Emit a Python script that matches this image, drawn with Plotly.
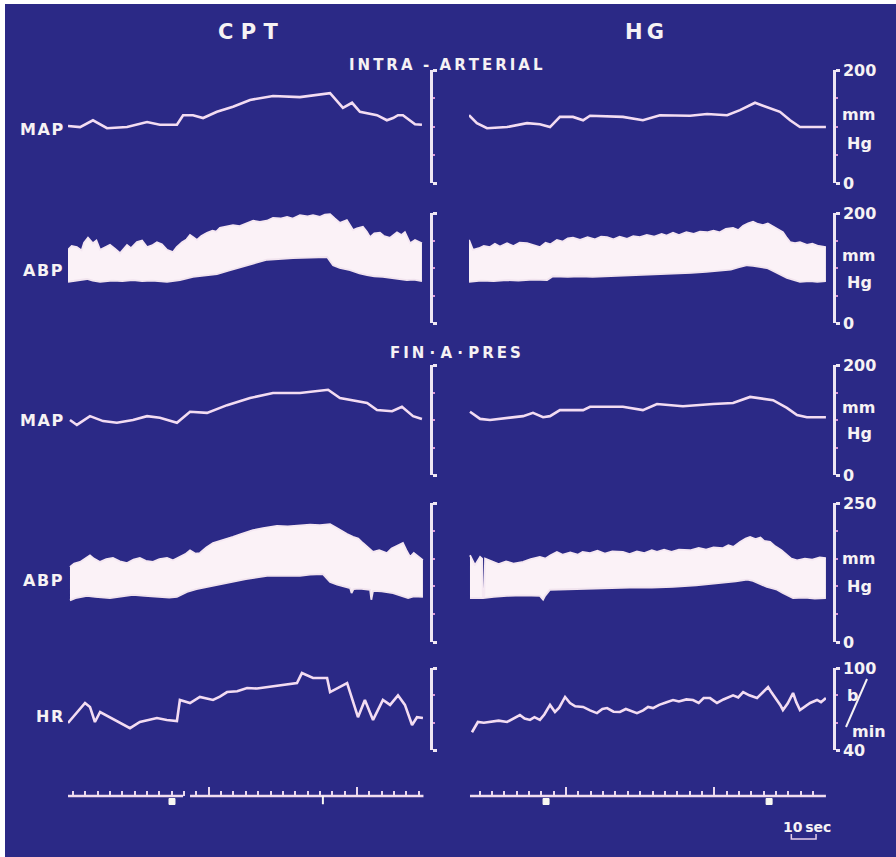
import plotly.graph_objects as go

W, H = 896, 857

# ---------------- DATA (time in s, values in mmHg or beats/min) ----------------
# Row 1: intra-arterial MAP
map_ia_cpt_t = [0, 4.9, 10.1, 15.8, 23.9, 32.0, 37.2, 44.1, 46.6, 50.6, 54.7, 60.3, 66.8, 73.7, 83.0, 93.9,
                106.1, 111.3, 115.0, 118.2, 125.1, 129.1, 131.6, 133.6, 135.6, 140.5, 143.3]
map_ia_cpt = [101, 99, 111, 97, 99, 108, 103, 103, 120, 120, 115, 126, 135, 147, 154, 152,
              159, 133, 142, 126, 120, 111, 115, 120, 120, 104, 103]
map_ia_hg_t = [0, 3.2, 7.3, 15.4, 23.5, 28.7, 32.8, 36.8, 42.1, 46.2, 49.0, 62.3, 70.4, 77.3, 89.5, 96.4,
               104.5, 109.7, 115.8, 121.9, 125.9, 130.0, 134.0, 144.5]
map_ia_hg = [120, 106, 97, 99, 106, 104, 99, 117, 117, 111, 119, 117, 111, 120, 119, 122,
             120, 129, 142, 133, 126, 111, 99, 99]

# Row 2: intra-arterial ABP (systolic / diastolic envelopes)
abp_ia_cpt_sys_t = [0, 1.5, 3.6, 5.5, 6.5, 8.1, 10.1, 11.5, 13.0, 15.0, 17.0, 19.0, 21.1, 23.9, 25.5, 27.9,
                    30.0, 32.0, 34.0, 36.0, 38.0, 40.1, 42.5, 44.0, 46.2, 48.0, 49.4, 51.0, 52.2, 54.0, 56.3,
                    58.5, 60.0, 61.5, 64.0, 66.8, 69.5, 72.5, 75.0, 77.7, 80.5, 83.0, 86.0, 88.7, 91.0, 93.9,
                    97.0, 99.2, 102.0, 104.0, 106.1, 108.0, 110.1, 112.9, 115.4, 117.0, 119.4, 121.0, 122.3,
                    124.0, 126.3, 128.0, 130.4, 133.2, 135.0, 136.4, 138.5, 140.5, 143.3]
abp_ia_cpt_sys = [133, 140, 138, 132, 146, 155, 145, 150, 133, 138, 142, 135, 127, 142, 136, 147,
                  150, 138, 141, 147, 143, 133, 129, 138, 147, 152, 160, 155, 151, 158, 164,
                  168, 166, 173, 176, 178, 176, 182, 186, 184, 186, 191, 190, 193, 190, 196,
                  194, 196, 193, 197, 198, 190, 182, 187, 169, 172, 175, 166, 156,
                  163, 164, 158, 155, 165, 160, 165, 145, 151, 145]
abp_ia_cpt_dia_t = [0, 3, 7.7, 10, 13, 18, 22, 26.3, 30, 34, 40.1, 45.3, 50.6, 55, 60.3, 65, 70.9, 75,
                    80.6, 86, 91.1, 98, 104.9, 107.3, 110, 114.2, 118, 121.1, 124, 127.5, 131, 134, 137.2,
                    140, 143.3]
abp_ia_cpt_dia = [75, 77, 80, 77, 75, 77, 76, 78, 76, 77, 75, 78, 84, 86, 89, 95, 102, 108,
                  115, 117, 118, 119, 120, 105, 100, 96, 90, 87, 85, 84, 82, 79, 78,
                  79, 76]
abp_ia_hg_sys_t = [0, 1.6, 4, 6, 8.5, 10.5, 12.5, 15.4, 18, 20.5, 23.5, 26, 28.7, 31, 33, 35.6, 38, 40,
                   42.1, 45, 48, 51, 53.5, 55.9, 58.5, 61, 64, 66.5, 69.2, 72, 75, 78, 80, 82.6, 85, 88,
                   91, 93.5, 96.4, 99, 101.5, 104, 106.9, 109, 111, 113, 115, 117, 119, 121, 123.1, 125,
                   127.1, 128.5, 130, 132, 134, 136.8, 139, 141.5, 144.5]
abp_ia_hg_sys = [151, 133, 136, 140, 138, 144, 139, 145, 140, 146, 145, 141, 138, 146, 143, 151, 148, 154,
                 155, 151, 156, 152, 157, 156, 152, 157, 153, 158, 156, 160, 157, 162, 159, 164, 160, 165,
                 162, 166, 165, 168, 165, 171, 173, 169, 177, 181, 184, 180, 178, 181, 175, 170,
                 165, 156, 147, 145, 147, 142, 144, 140, 138]
abp_ia_hg_dia_t = [0, 5, 10, 15.4, 20, 26, 31.6, 34, 40, 45, 50, 55.9, 62, 70, 76, 82.6, 90, 96, 102.8,
                   106, 109, 112.6, 115, 118, 120.6, 122.5, 124.7, 126.5, 128.7, 131, 134, 138, 141, 144.5]
abp_ia_hg_dia = [75, 77, 76, 78, 77, 79, 78, 85, 84, 85, 84, 85, 86, 87, 88, 89, 91, 93, 95,
                 97, 101, 105, 104, 102, 100, 96, 91, 87, 82, 79, 75, 76, 75, 76]

# Row 3: Fin-A-Pres MAP
map_fin_cpt_t = [0.8, 3.6, 8.9, 14.2, 19.8, 26.3, 32.0, 37.2, 44.1, 49.4, 56.3, 64.4, 73.7, 83.0, 93.9,
                 105.3, 110.1, 115.4, 121.1, 125.1, 131.2, 135.2, 139.7, 143.3]
map_fin_cpt = [100, 91, 107, 98, 95, 100, 107, 104, 95, 115, 113, 127, 140, 149, 149,
               155, 140, 136, 131, 118, 116, 124, 107, 102]
map_fin_hg_t = [0.4, 4.5, 8.5, 21.9, 25.9, 30.0, 32.8, 36.8, 46.2, 49.0, 62.3, 70.4, 76.1, 86.6, 98.8,
                106.9, 113.8, 123.1, 128.7, 132.8, 136.8, 144.5]
map_fin_hg = [115, 102, 100, 107, 113, 105, 107, 118, 118, 124, 124, 118, 129, 125, 129,
              131, 142, 136, 122, 109, 105, 105]

# Row 4: Fin-A-Pres ABP
abp_fin_cpt_sys_t = [0.8, 2.5, 4.9, 7, 8.9, 10.5, 13.0, 15.5, 18.2, 21, 23.9, 26.5, 29.1, 31.5, 34.4, 37,
                     40.1, 42.5, 45.3, 47.5, 49.4, 51.5, 53.4, 56, 58.7, 62, 66.8, 70, 74.9, 79, 84.6, 89,
                     93.9, 98, 102, 106.1, 108.5, 111.3, 113, 115.4, 117.5, 119.4, 121.5, 123.5, 126,
                     129.1, 131, 133, 135.6, 137, 138.5, 140, 141.3, 143.7]
abp_fin_cpt_sys = [135, 141, 144, 150, 156, 150, 144, 149, 151, 145, 142, 148, 151, 146, 144, 149,
                   151, 147, 153, 158, 165, 159, 160, 170, 178, 182, 189, 194, 201, 205, 209, 208,
                   210, 211, 210, 212, 206, 198, 194, 189, 186, 178, 170, 162, 165,
                   160, 168, 172, 178, 165, 153, 160, 156, 147]
abp_fin_cpt_dia_t = [0.8, 3, 7.7, 11, 17.0, 21, 26.3, 31, 37.2, 41, 44.1, 48.2, 52, 56.3, 61, 66.8, 72,
                     80.6, 87, 93.9, 98, 103.2, 106.1, 109, 114.2, 114.8, 115.6, 118, 122.3, 122.8, 123.5,
                     127, 131.6, 134, 137.7, 140, 143.7]
abp_fin_cpt_dia = [75, 79, 83, 81, 79, 82, 85, 83, 81, 80, 81, 90, 95, 99, 103, 108, 113,
                   119, 119, 119, 121, 122, 108, 103, 97, 88, 95, 96, 94, 76, 92,
                   91, 88, 84, 79, 82, 81]
abp_fin_hg_sys_t = [0.4, 2.4, 4.5, 5.3, 5.6, 6.2, 6.5, 9.7, 12, 15, 18, 21.9, 25, 28.7, 31, 33, 35.6, 38,
                    41, 44, 46, 49, 52, 55, 58, 62.3, 65, 68, 71, 74, 76.1, 79, 82, 85, 89.5, 93, 96, 99,
                    102.8, 105, 107, 109.7, 112, 113.8, 116, 118, 119.5, 121.9, 124, 126.5, 128.7, 130.5,
                    132.8, 136, 139, 142, 144.5]
abp_fin_hg_sys = [156, 138, 153, 150, 82, 82, 150, 144, 140, 145, 141, 144, 149, 153, 150, 156, 162, 157,
                  161, 157, 162, 160, 164, 159, 163, 162, 158, 163, 160, 165, 162, 166, 162, 166, 165, 169,
                  166, 170, 169, 174, 171, 180, 186, 189, 185, 188, 182, 180, 172, 165, 156, 150,
                  147, 150, 148, 152, 151]
abp_fin_hg_dia_t = [0.4, 5.7, 10, 15.4, 22, 28.7, 30, 30.8, 32.8, 40, 48, 55.9, 65, 74, 82.6, 92, 102.8,
                    108, 112.6, 115, 118, 120.6, 122.5, 124.7, 127, 129, 131.2, 136, 140, 144.5]
abp_fin_hg_dia = [79, 79, 81, 83, 84, 83, 76, 83, 94, 95, 96, 97, 98, 98, 99, 102, 106,
                  109, 112, 110, 104, 99, 97, 94, 88, 83, 79, 80, 78, 79]

# Row 5: heart rate
hr_cpt_t = [0, 3.6, 6.9, 8.9, 10.9, 13.0, 17.0, 20.2, 25.1, 29.1, 32.5, 36.0, 40, 44.1, 45.3, 49.4, 53.4,
            58.7, 61.5, 64.4, 68.5, 72.5, 76.5, 80.6, 84.5, 88.7, 92.7, 94.7, 99.2, 104.9, 106.1, 113.0,
            115.4, 117.4, 120.2, 123.5, 127.5, 130.4, 133.6, 136.4, 139.3, 141.3, 143.7]
hr_cpt = [59.8, 67.8, 74.4, 71.5, 60.5, 67.8, 64, 60.5, 56, 60.5, 62, 63.4, 62, 61.2, 76.6, 74.4, 78.8,
          76.6, 79, 82.4, 83, 85.4, 85, 86, 86.5, 87.5, 89, 96.3, 92.7, 92.7, 82.4, 89,
          74.4, 64, 76.6, 62, 76.6, 73, 80, 73, 58.3, 64, 63.4]
hr_hg_t = [1.2, 3.6, 6, 8.5, 12, 15.4, 18, 20.6, 22.5, 24.7, 26.5, 28.7, 30.5, 32.8, 34.8, 36.5, 38.9,
           40.9, 43, 46.2, 49, 51.8, 54, 55.9, 58.5, 61.1, 63.5, 66, 68, 70.5, 72.5, 74.5, 77, 80, 82.6,
           85, 88, 90.7, 93, 95, 97.6, 100.4, 103, 106.9, 109, 111, 113.5, 116.6, 119, 121.1, 122.5,
           124.7, 126, 127.1, 129, 131.2, 132.5, 134, 136, 138.1, 140.9, 142.5, 144.5]
hr_hg = [53, 60.5, 60, 60.5, 61.5, 60.5, 63, 65.6, 63, 62, 64, 62, 66, 73, 67.8, 71, 78.8,
         74.4, 72, 71.5, 69, 67, 70, 70.7, 68, 67.8, 70, 68, 67, 69, 71.5, 70.7, 73, 75, 76.6,
         75.5, 77, 76.6, 74.5, 78, 78, 74.4, 77, 80, 78.5, 82.4, 80, 78, 82, 86, 82,
         76.6, 73, 69.3, 74, 81.7, 75, 69.3, 72, 74.4, 76.6, 75, 78]

# Time-marker row
base_cpt_t = [0, 46.6, None, 49.4, 144]
base_hg_t = [0.4, 144.5]
event_cpt_t = [42.1]
event_cpt_end_t = [103.2]
event_hg_t = [31.2, 121.5]
bracket_t = [130.5, 130.5, 140.5, 140.5]
bracket_y = [-3.8, -4.3, -4.3, -3.8]

# Scale bars: (low, high, minor step, tick labels)
scales = [(0, 200, 50, ["0", "200"]),
          (0, 200, 50, ["0", "200"]),
          (0, 200, 50, ["0", "200"]),
          (0, 250, 50, ["0", "250"]),
          (40, 100, 20, ["40", "100"])]
row_labels = ["MAP", "ABP", "MAP", "ABP", "HR"]

# ---------------- STYLE / LAYOUT ----------------
BG = "#2b2986"
TRACE = "#f3dcf2"
BAND = "#fbf2f7"
TXT = "#f6f2f4"
BAR = "#efe6f3"
FONT = "DejaVu Sans"

row_px = [(183, 70), (323, 213), (475, 365), (642, 503), (750, 668)]
PXS = 2.47  # px per second
XL0, XR0 = 68, 469
x_left_range = [0, 144]
x_right_range = [0, 144.5]


def pdx(px):
    return px / W


def pdy(py):
    return 1 - py / H


fig = go.Figure()


def line(t, v, xa, ya, color=TRACE, width=2.6):
    fig.add_trace(go.Scatter(x=t, y=v, xaxis=xa, yaxis=ya, mode="lines",
                             line=dict(color=color, width=width, shape="linear"),
                             hoverinfo="skip", showlegend=False))


def band(t_dia, dia, t_sys, sys_, xa, ya):
    fig.add_trace(go.Scatter(x=t_dia, y=dia, xaxis=xa, yaxis=ya, mode="lines",
                             line=dict(color="#f1e4ee", width=1.8),
                             hoverinfo="skip", showlegend=False))
    fig.add_trace(go.Scatter(x=t_sys, y=sys_, xaxis=xa, yaxis=ya, mode="lines",
                             line=dict(color="#f5e8f2", width=1.8),
                             fill="tonexty", fillcolor=BAND,
                             hoverinfo="skip", showlegend=False))


line(map_ia_cpt_t, map_ia_cpt, "x", "y")
line(map_ia_hg_t, map_ia_hg, "x2", "y2")
band(abp_ia_cpt_dia_t, abp_ia_cpt_dia, abp_ia_cpt_sys_t, abp_ia_cpt_sys, "x", "y3")
band(abp_ia_hg_dia_t, abp_ia_hg_dia, abp_ia_hg_sys_t, abp_ia_hg_sys, "x2", "y4")
line(map_fin_cpt_t, map_fin_cpt, "x", "y5")
line(map_fin_hg_t, map_fin_hg, "x2", "y6")
band(abp_fin_cpt_dia_t, abp_fin_cpt_dia, abp_fin_cpt_sys_t, abp_fin_cpt_sys, "x", "y7")
band(abp_fin_hg_dia_t, abp_fin_hg_dia, abp_fin_hg_sys_t, abp_fin_hg_sys, "x2", "y8")
line(hr_cpt_t, hr_cpt, "x", "y9")
line(hr_hg_t, hr_hg, "x2", "y10")

# time-marker row (y11)
line(base_cpt_t, [0 if v is not None else None for v in base_cpt_t], "x", "y11", color="#f0dcef", width=2.5)
line(base_hg_t, [0] * len(base_hg_t), "x2", "y11", color="#f0dcef", width=2.5)
EV = "#f8f8f2"
fig.add_trace(go.Scatter(x=event_cpt_t, y=[-0.55] * len(event_cpt_t), xaxis="x", yaxis="y11",
                         mode="markers", marker=dict(symbol="square", size=6, color=EV, opacity=1,
                                                     line=dict(color=EV, width=1)),
                         hoverinfo="skip", showlegend=False))
fig.add_trace(go.Scatter(x=event_cpt_end_t, y=[-0.4] * len(event_cpt_end_t), xaxis="x", yaxis="y11",
                         mode="markers", marker=dict(symbol="line-ns", size=6, opacity=1,
                                                     line=dict(color=EV, width=2)),
                         hoverinfo="skip", showlegend=False))
fig.add_trace(go.Scatter(x=event_hg_t, y=[-0.55] * len(event_hg_t), xaxis="x2", yaxis="y11",
                         mode="markers", marker=dict(symbol="square", size=6, color=EV, opacity=1,
                                                     line=dict(color=EV, width=1)),
                         hoverinfo="skip", showlegend=False))
line(bracket_t, bracket_y, "x2", "y11", color="#e8d0ea", width=1.5)

layout = dict(
    template="none",
    width=W, height=H, margin=dict(l=0, r=0, t=0, b=0, pad=0, autoexpand=False),
    paper_bgcolor="#ffffff", plot_bgcolor="rgba(0,0,0,0)",
    showlegend=False,
)

tick_common = dict(showgrid=False, zeroline=False, ticks="inside", ticklen=9, tickwidth=1.5,
                   tickcolor="#e9d8ee", showticklabels=False, showline=False, anchor="free",
                   position=pdy(796), fixedrange=True, automargin=False)
layout["xaxis"] = dict(domain=[pdx(XL0), pdx(XL0 + x_left_range[1] * PXS)], range=x_left_range,
                       tick0=57, dtick=60,
                       minor=dict(ticks="inside", ticklen=5, tickwidth=1.5, tickcolor="#e9d8ee",
                                  tick0=2, dtick=5, showgrid=False),
                       **tick_common)
layout["xaxis2"] = dict(domain=[pdx(XR0), pdx(XR0 + x_right_range[1] * PXS)], range=x_right_range,
                        tick0=39.3, dtick=60,
                        minor=dict(ticks="inside", ticklen=5, tickwidth=1.5, tickcolor="#e9d8ee",
                                   tick0=4.3, dtick=5, showgrid=False),
                        **tick_common)

for r, ((lo, hi, mstep, labels), (plo, phi)) in enumerate(zip(scales, row_px)):
    dom = [pdy(plo), pdy(phi)]
    left_name = "yaxis" if r == 0 else f"yaxis{2 * r + 1}"
    right_name = f"yaxis{2 * r + 2}"
    base = dict(domain=dom, range=[lo, hi], showgrid=False, zeroline=False, anchor="free",
                side="right", showline=True, linecolor=BAR, linewidth=2.5,
                ticks="outside", ticklen=4, tickwidth=2.5, tickcolor=BAR,
                tickvals=[lo, hi], fixedrange=True, automargin=False,
                minor=dict(ticks="outside", ticklen=2, tickwidth=2, tickcolor="#d894d6",
                           tick0=lo, dtick=mstep, showgrid=False))
    layout[left_name] = dict(base, position=pdx(431), showticklabels=False)
    layout[right_name] = dict(base, position=pdx(834), showticklabels=True, ticktext=labels,
                              tickfont=dict(family=FONT, size=16, color=TXT, weight="bold"))

layout["yaxis11"] = dict(domain=[pdy(848), pdy(784)], range=[-5.2, 1.2], visible=False,
                         anchor="x", fixedrange=True, automargin=False)

fig.update_layout(**layout)

fig.add_shape(type="rect", xref="paper", yref="paper", x0=pdx(5), x1=1, y0=0, y1=pdy(4),
              fillcolor=BG, line=dict(width=0), layer="below")
fig.add_shape(type="line", xref="paper", yref="paper", x0=pdx(867), y0=pdy(679), x1=pdx(846), y1=pdy(727),
              line=dict(color=TXT, width=2))


def ann(text, px, py, size, xanchor="center"):
    fig.add_annotation(text=text, x=pdx(px), y=pdy(py), xref="paper", yref="paper",
                       xanchor=xanchor, yanchor="middle", showarrow=False,
                       font=dict(family=FONT, size=size, color=TXT, weight="bold"))


ts = "\u2009"
ann("C P T", 248, 32, 21)
ann(ts.join("HG"), 644, 32, 21)
ann(ts.join("INTRA") + "  -  " + ts.join("ARTERIAL"), 446, 65, 15)
ann(ts.join("FIN") + " \u00b7 A \u00b7 " + ts.join("PRES"), 455, 353, 15)

label_py = [130, 270, 420, 580, 716]
for lab, py in zip(row_labels, label_py):
    ann("\u200a".join(lab), 65, py, 16, xanchor="right")

unit_rows = [(115, 143), (256, 282), (407, 433), (558, 586)]
for mm_py, hg_py in unit_rows:
    ann("mm", 840, mm_py, 16, xanchor="left")
    ann("Hg", 845, hg_py, 16, xanchor="left")
ann("b", 845, 695, 16, xanchor="left")
ann("min", 850, 731, 16, xanchor="left")
ann("10" + ts + "sec", 807, 827, 14)

fig.write_html("out.html")
